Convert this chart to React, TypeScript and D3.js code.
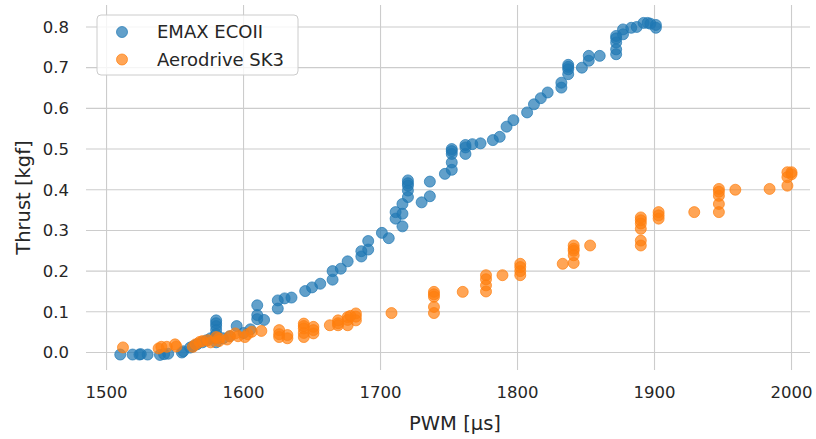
import React from "react";
import * as d3 from "d3";

// Thrust measurements per ESC: [PWM µs, thrust kgf]
const emaxEcoii: [number, number][] = [
  [1510, -0.005], [1519, -0.005], [1524, -0.005], [1525, -0.004], [1530, -0.005],
  [1539, -0.006], [1542, -0.004], [1545, -0.003], [1555, 0.0], [1556, 0.003],
  [1561, 0.012], [1563, 0.015], [1566, 0.02], [1570, 0.025], [1573, 0.03], [1576, 0.035],
  [1580, 0.079], [1580, 0.072], [1580, 0.065], [1580, 0.055], [1580, 0.045], [1580, 0.035], [1580, 0.025],
  [1585, 0.035], [1590, 0.04], [1595, 0.065], [1600, 0.048], [1605, 0.057],
  [1610, 0.116], [1610, 0.092], [1610, 0.082], [1615, 0.08],
  [1625, 0.128], [1625, 0.108], [1630, 0.133], [1635, 0.135], [1645, 0.151], [1650, 0.16],
  [1656, 0.169], [1665, 0.179], [1665, 0.2], [1671, 0.206], [1676, 0.224],
  [1686, 0.236], [1686, 0.249], [1691, 0.253], [1691, 0.274], [1701, 0.294], [1706, 0.281],
  [1711, 0.345], [1711, 0.329], [1716, 0.365], [1716, 0.341], [1716, 0.31],
  [1720, 0.423], [1720, 0.416], [1720, 0.41], [1720, 0.398], [1720, 0.382],
  [1730, 0.369], [1736, 0.384], [1736, 0.42], [1747, 0.439],
  [1752, 0.449], [1752, 0.467], [1752, 0.488], [1752, 0.495], [1752, 0.5],
  [1762, 0.488], [1762, 0.504], [1762, 0.51], [1767, 0.512], [1773, 0.514],
  [1782, 0.522], [1787, 0.53], [1792, 0.555], [1797, 0.571], [1807, 0.59], [1812, 0.61],
  [1817, 0.625], [1822, 0.639], [1832, 0.651], [1832, 0.663],
  [1837, 0.684], [1837, 0.696], [1837, 0.702], [1837, 0.707], [1847, 0.7],
  [1852, 0.717], [1852, 0.729], [1860, 0.729],
  [1872, 0.733], [1872, 0.745], [1872, 0.762], [1872, 0.772], [1872, 0.778],
  [1877, 0.782], [1877, 0.794], [1883, 0.798], [1887, 0.8], [1892, 0.81], [1895, 0.81],
  [1897, 0.808], [1901, 0.805], [1901, 0.798],
];

const aerodriveSk3: [number, number][] = [
  [1512, 0.0125], [1538, 0.01], [1540, 0.014], [1544, 0.014], [1550, 0.02], [1551, 0.015],
  [1563, 0.014], [1565, 0.02], [1568, 0.026], [1570, 0.028], [1574, 0.03], [1576, 0.025],
  [1580, 0.038], [1582, 0.035], [1582, 0.028], [1588, 0.032], [1590, 0.04], [1594, 0.047],
  [1596, 0.04], [1601, 0.038], [1603, 0.045], [1606, 0.051], [1613, 0.053],
  [1626, 0.055], [1626, 0.045], [1626, 0.038], [1632, 0.043], [1632, 0.035],
  [1644, 0.071], [1644, 0.065], [1644, 0.059], [1644, 0.048], [1644, 0.038],
  [1651, 0.063], [1651, 0.055], [1651, 0.047], [1663, 0.067],
  [1669, 0.079], [1669, 0.072], [1669, 0.067], [1676, 0.087], [1676, 0.08], [1676, 0.067],
  [1678, 0.09], [1682, 0.096], [1682, 0.088], [1682, 0.079], [1708, 0.097],
  [1739, 0.149], [1739, 0.143], [1739, 0.137], [1739, 0.112], [1739, 0.097], [1760, 0.149],
  [1777, 0.19], [1777, 0.18], [1777, 0.165], [1777, 0.15], [1789, 0.19],
  [1802, 0.218], [1802, 0.21], [1802, 0.2], [1802, 0.19], [1833, 0.218],
  [1841, 0.263], [1841, 0.255], [1841, 0.25], [1841, 0.239], [1841, 0.22], [1853, 0.263],
  [1890, 0.332], [1890, 0.325], [1890, 0.317], [1890, 0.304], [1890, 0.275], [1890, 0.263],
  [1903, 0.345], [1903, 0.337], [1903, 0.329], [1929, 0.345],
  [1947, 0.402], [1947, 0.395], [1947, 0.385], [1947, 0.365], [1947, 0.345],
  [1959, 0.4], [1984, 0.402], [1997, 0.443], [1997, 0.431], [1997, 0.41], [2000, 0.443], [2000, 0.438],
];

const xTicks = [1500, 1600, 1700, 1800, 1900, 2000];
const yTicks = [0.0, 0.1, 0.2, 0.3, 0.4, 0.5, 0.6, 0.7, 0.8];

const seriesNames = ["EMAX ECOII", "Aerodrive SK3"];
const seriesColors = ["#1f77b4", "#ff7f0e"];

const W = 816;
const H = 439;
const plot = { left: 86, right: 810, top: 5, bottom: 370 };
const FONT = "'DejaVu Sans', sans-serif";
const TEXT = "#262626";
const GRID = "#cccccc";

export default function App() {
  const x = d3.scaleLinear().domain([1485, 2013.5]).range([plot.left, plot.right]);
  const y = d3.scaleLinear().domain([-0.043, 0.854]).range([plot.bottom, plot.top]);
  const fmtY = d3.format(".1f");
  const series = [emaxEcoii, aerodriveSk3];

  return (
    <svg
      width={W}
      height={H}
      style={{ position: "absolute", left: 0, top: 0, background: "#fff" }}
      fontFamily={FONT}
    >
      {/* grid */}
      {xTicks.map((t) => (
        <line key={"gx" + t} x1={x(t)} x2={x(t)} y1={plot.top} y2={plot.bottom} stroke={GRID} strokeWidth={1.1} />
      ))}
      {yTicks.map((t) => (
        <line key={"gy" + t} x1={plot.left} x2={plot.right} y1={y(t)} y2={y(t)} stroke={GRID} strokeWidth={1.1} />
      ))}

      {/* tick labels */}
      {xTicks.map((t) => (
        <text key={"tx" + t} x={x(t)} y={plot.bottom + 28} textAnchor="middle" fontSize={16.5} fill={TEXT}>
          {t}
        </text>
      ))}
      {yTicks.map((t) => (
        <text key={"ty" + t} x={plot.left - 17} y={y(t)} dy="0.35em" textAnchor="end" fontSize={16.5} fill={TEXT}>
          {fmtY(t)}
        </text>
      ))}

      {/* axis labels */}
      <text x={(plot.left + plot.right) / 2 + 7} y={430} textAnchor="middle" fontSize={19.5} fill={TEXT}>
        PWM [µs]
      </text>
      <text
        transform={`translate(30, ${(plot.top + plot.bottom) / 2 + 10}) rotate(-90)`}
        textAnchor="middle"
        fontSize={19.5}
        fill={TEXT}
      >
        Thrust [kgf]
      </text>

      {/* points */}
      {series.map((pts, i) => (
        <g key={"s" + i}>
          {pts.map(([px, py], j) => (
            <circle
              key={j}
              cx={x(px)}
              cy={y(py)}
              r={5.5}
              fill={seriesColors[i]}
              fillOpacity={0.7}
              stroke={seriesColors[i]}
              strokeOpacity={0.7}
              strokeWidth={1}
            />
          ))}
        </g>
      ))}

      {/* legend */}
      <g>
        <rect x={97} y={15} width={201} height={60} rx={4} fill="#fff" fillOpacity={0.8} stroke={GRID} strokeWidth={1} />
        {seriesNames.map((name, i) => (
          <g key={name}>
            <circle cx={122} cy={32 + i * 27.5} r={5.5} fill={seriesColors[i]} fillOpacity={0.7} stroke={seriesColors[i]} strokeOpacity={0.7} />
            <text x={157} y={32 + i * 27.5} dy="0.35em" fontSize={18} fill={TEXT}>
              {name}
            </text>
          </g>
        ))}
      </g>
    </svg>
  );
}
